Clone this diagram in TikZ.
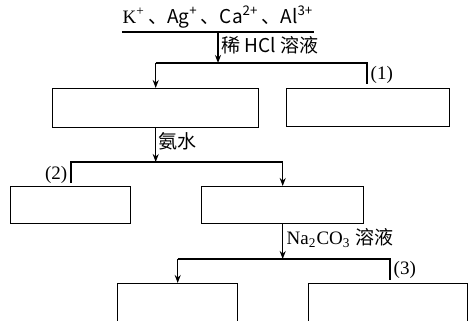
\documentclass[tikz,border=0pt]{standalone}
\usepackage{fontspec}
\setmainfont{Liberation Serif}
\newfontfamily\cjk{Noto Sans CJK SC}
\usetikzlibrary{arrows.meta}

\begin{document}
\begin{tikzpicture}[
        x=0.5pt, y=-0.5pt,
        line width=0.7pt,
        box/.style={draw, inner sep=0pt, anchor=north west},
        lbl/.style={inner sep=1pt, font=\fontsize{9.5}{11}\selectfont},
        every edge/.style={draw, ->},
        >={Stealth[length=4pt, width=3pt]}
    ]
        \useasboundingbox (0, 0) rectangle (469, 320);
        \clip (0, 0) rectangle (469, 320);

        \node[lbl, anchor=south, inner xsep=0pt, inner ysep=1.5pt] (ions) at (218, 32)
            {K\textsuperscript{+}\,\cjk{、}Ag\textsuperscript{+}\,\cjk{、}Ca\textsuperscript{2+}\,\cjk{、}Al\textsuperscript{3+}};
        \draw (ions.south west) -- (ions.south east);

        \node[box, minimum width=103pt, minimum height=19.5pt] (a) at (52, 88) {};
        \node[box, minimum width=81.5pt, minimum height=19pt] (b) at (286, 88) {};
        \node[box, minimum width=60pt, minimum height=18.5pt] (c) at (10, 186) {};
        \node[box, minimum width=81pt, minimum height=18.5pt] (d) at (201, 186) {};
        \node[box, minimum width=60pt, minimum height=30pt] (e) at (117, 283) {};
        \node[box, minimum width=79.5pt, minimum height=30pt] (f) at (308, 283) {};

        % step 1
        \coordinate (s1) at (ions.south |- 0, 63);
        \coordinate (s1l) at (a.north |- s1);
        \coordinate (s1r) at (367, 63);
        \coordinate (e1) at (367, 84);
        \draw (ions.south) edge (s1);
        \draw (s1l) -- (s1r) -- (e1);
        \draw (s1l) edge (a.north);
        \node[lbl, anchor=west] (hcl) at (219, 45) {\cjk{稀} HCl \cjk{溶液}};
        \node[lbl, anchor=west] (n1) at (368, 75) {(1)};

        % step 2
        \coordinate (s2) at (a.south |- 0, 162);
        \coordinate (s2l) at (71, 162);
        \coordinate (s2r) at (d.north |- s2);
        \coordinate (e2) at (71, 183);
        \draw (a.south) edge (s2);
        \draw (e2) -- (s2l) -- (s2r);
        \draw (s2r) edge (d.north);
        \node[lbl, anchor=west] (nh3) at (156, 141) {\cjk{氨水}};
        \node[lbl, anchor=east] (n2) at (70, 175) {(2)};

        % step 3
        \coordinate (s3) at (d.south |- 0, 259);
        \coordinate (s3l) at (e.north |- s3);
        \coordinate (s3r) at (390, 259);
        \coordinate (e3) at (390, 280);
        \draw (d.south) edge (s3);
        \draw (s3l) -- (s3r) -- (e3);
        \draw (s3l) edge (e.north);
        \node[lbl, anchor=west] (na) at (284, 238) {Na\textsubscript{2}CO\textsubscript{3} \cjk{溶液}};
        \node[lbl, anchor=west] (n3) at (391, 270) {(3)};
    \end{tikzpicture}
\end{document}
